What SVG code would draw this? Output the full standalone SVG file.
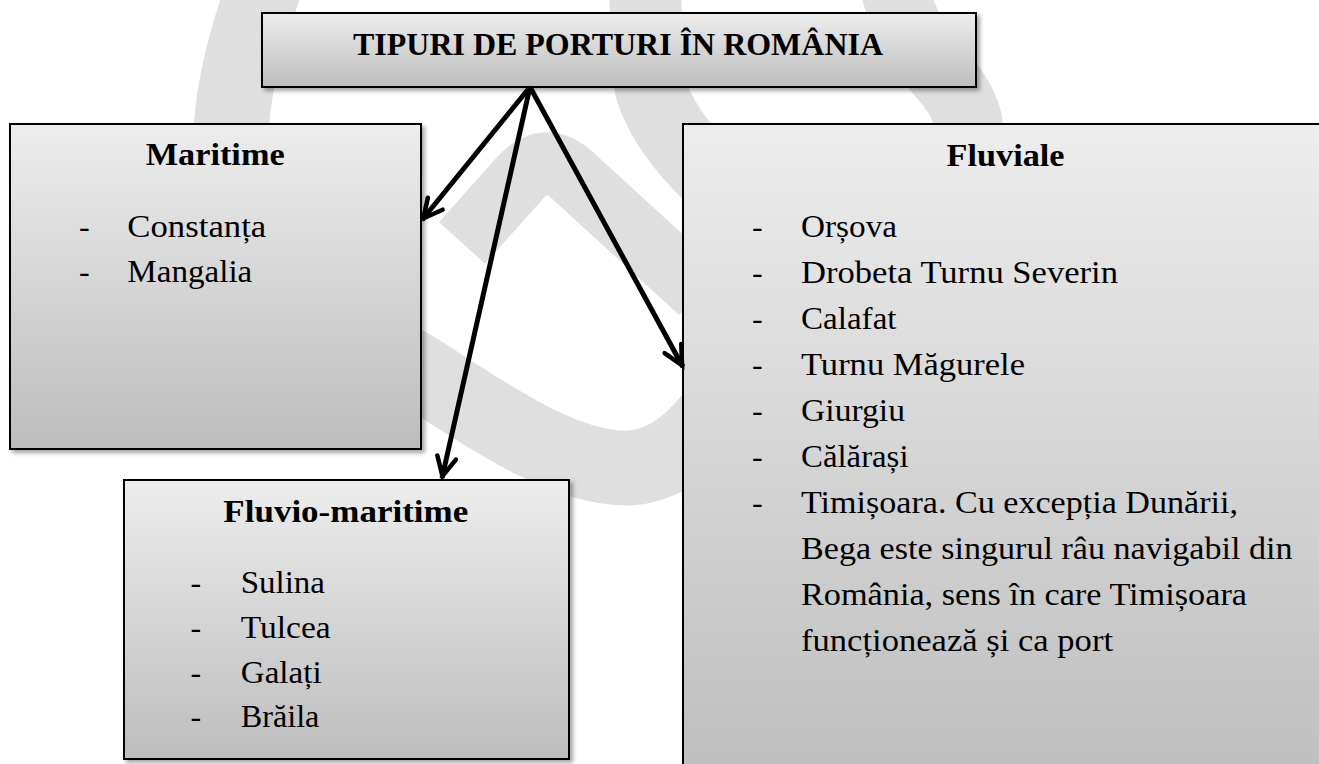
<svg xmlns="http://www.w3.org/2000/svg" width="1319" height="764" viewBox="0 0 1319 764">
<style>
.box{stroke:#000;stroke-width:2;filter:url(#sh)}
.wm{fill:none;stroke:#dfdfdf}
.t{font-family:"Liberation Serif","Times New Roman",serif;font-size:32px;fill:#000}
.b{font-weight:bold}
.conn{stroke:#000;stroke-width:5;fill:none;marker-end:url(#ah)}
</style>
<defs>
<linearGradient id="g" x1="0" y1="0" x2="0" y2="1">
<stop offset="0" stop-color="#ededed"/>
<stop offset="1" stop-color="#bdbdbd"/>
</linearGradient>
<filter id="sh" x="-5%" y="-5%" width="115%" height="120%">
<feDropShadow dx="3" dy="3" stdDeviation="2" flood-color="#000" flood-opacity="0.35"/>
</filter>
<marker id="ah" viewBox="0 0 30 24" refX="25" refY="12" markerWidth="30" markerHeight="24" markerUnits="userSpaceOnUse" orient="auto">
<path d="M4,2.5 L23,12 L4,21.5" fill="none" stroke="#000" stroke-width="4.5" stroke-linecap="round" stroke-miterlimit="4"/>
</marker>
</defs>
<rect width="1319" height="764" fill="#fff"/>
<g id="watermark">
<path class="wm" stroke-width="75" d="M 265,-15 C 238,60 218,140 240,220 C 270,310 350,330 420,372 C 500,425 570,470 630,468 C 660,466 685,450 710,420"/>
<path class="wm" stroke-width="62" d="M 462,243 L 520,178 Q 545,150 572,175 L 700,292"/>
<path class="wm" stroke-width="72" d="M 645,-10 L 648,75 Q 655,125 720,185"/>
<path class="wm" stroke-width="68" d="M 895,-10 C 905,35 930,60 950,85 C 968,108 970,125 970,140"/>
</g>
<g id="title">
<rect class="box" x="262" y="13" width="714" height="74" fill="url(#g)"/>
<text class="t b" x="353" y="55" font-size="33" textLength="530" lengthAdjust="spacingAndGlyphs">TIPURI DE PORTURI ÎN ROMÂNIA</text>
</g>
<g id="maritime">
<rect class="box" x="10" y="124" width="411" height="325" fill="url(#g)"/>
<text class="t b" x="145.7" y="165" textLength="139" lengthAdjust="spacingAndGlyphs">Maritime</text>
<text class="t" x="79" y="236.7">-</text>
<text class="t" x="127.3" y="236.7" textLength="139" lengthAdjust="spacingAndGlyphs">Constanța</text>
<text class="t" x="79" y="281.7">-</text>
<text class="t" x="127.3" y="281.7" textLength="125" lengthAdjust="spacingAndGlyphs">Mangalia</text>
</g>
<g id="fluvio-maritime">
<rect class="box" x="124" y="480" width="445" height="279" fill="url(#g)"/>
<text class="t b" x="223.3" y="522" textLength="245" lengthAdjust="spacingAndGlyphs">Fluvio-maritime</text>
<text class="t" x="190.5" y="593">-</text>
<text class="t" x="240.7" y="593" textLength="84.3" lengthAdjust="spacingAndGlyphs">Sulina</text>
<text class="t" x="190.5" y="638">-</text>
<text class="t" x="240.7" y="638" textLength="90" lengthAdjust="spacingAndGlyphs">Tulcea</text>
<text class="t" x="190.5" y="683">-</text>
<text class="t" x="240.7" y="683" textLength="81" lengthAdjust="spacingAndGlyphs">Galați</text>
<text class="t" x="190.5" y="727">-</text>
<text class="t" x="240.7" y="727" textLength="78.7" lengthAdjust="spacingAndGlyphs">Brăila</text>
</g>
<g id="fluviale">
<rect class="box" x="683" y="124" width="660" height="670" fill="url(#g)"/>
<text class="t b" x="946.5" y="166" textLength="118" lengthAdjust="spacingAndGlyphs">Fluviale</text>
<text class="t" x="752" y="237">-</text>
<text class="t" x="801" y="237" textLength="96" lengthAdjust="spacingAndGlyphs">Orșova</text>
<text class="t" x="752" y="283">-</text>
<text class="t" x="801" y="283" textLength="317" lengthAdjust="spacingAndGlyphs">Drobeta Turnu Severin</text>
<text class="t" x="752" y="329">-</text>
<text class="t" x="801" y="329" textLength="95.5" lengthAdjust="spacingAndGlyphs">Calafat</text>
<text class="t" x="752" y="375">-</text>
<text class="t" x="801" y="375" textLength="224" lengthAdjust="spacingAndGlyphs">Turnu Măgurele</text>
<text class="t" x="752" y="421">-</text>
<text class="t" x="801" y="421" textLength="104" lengthAdjust="spacingAndGlyphs">Giurgiu</text>
<text class="t" x="752" y="467">-</text>
<text class="t" x="801" y="467" textLength="107.5" lengthAdjust="spacingAndGlyphs">Călărași</text>
<text class="t" x="752" y="513">-</text>
<text class="t" x="801" y="513" textLength="437" lengthAdjust="spacingAndGlyphs">Timișoara. Cu excepția Dunării,</text>
<text class="t" x="801" y="559" textLength="491.5" lengthAdjust="spacingAndGlyphs">Bega este singurul râu navigabil din</text>
<text class="t" x="801" y="605" textLength="446" lengthAdjust="spacingAndGlyphs">România, sens în care Timișoara</text>
<text class="t" x="801" y="651" textLength="312" lengthAdjust="spacingAndGlyphs">funcționează și ca port</text>
</g>
<g id="connectors">
<line class="conn" x1="530" y1="87" x2="422" y2="220"/>
<line class="conn" x1="530" y1="87" x2="442" y2="478"/>
<line class="conn" x1="530" y1="87" x2="683" y2="367"/>
</g>
</svg>
